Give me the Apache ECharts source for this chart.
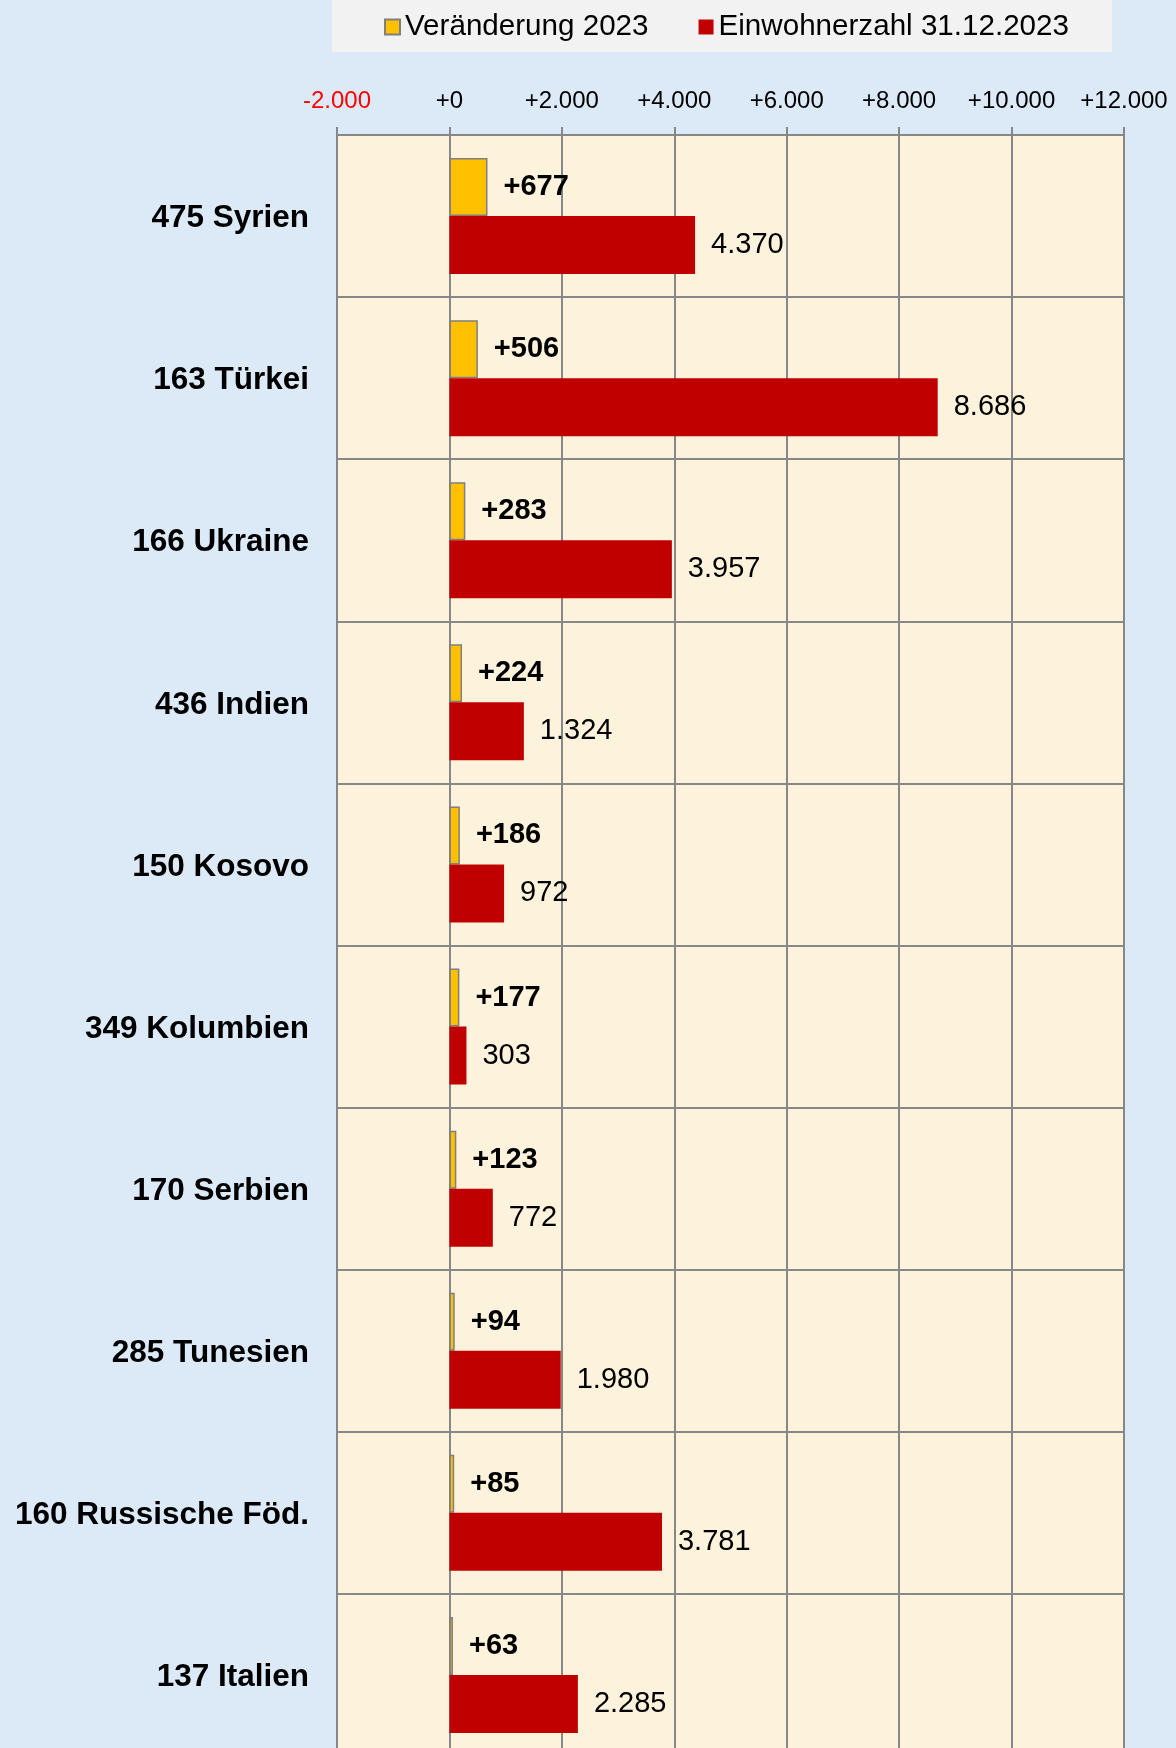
<!DOCTYPE html>
<html lang="de">
<head>
    <meta charset="UTF-8">
    <title>Einwohner nach Staatsangehörigkeit</title>
    <script src="https://cdn.jsdelivr.net/npm/echarts@6/dist/echarts.min.js"></script>
</head>
<style>
html,body{margin: 0;padding: 0;background-color: #dce9f7;overflow: hidden}
/* etwas höher als das Fenster: das Diagramm läuft unten aus dem Bild */
#chartBox{width: 1176px;height: 1770px}
</style>
<body>
    <div id="chartBox"></div>
</body>
<script>
// Daten
const laender = ['475 Syrien', '163 Türkei', '166 Ukraine', '436 Indien', '150 Kosovo',
    '349 Kolumbien', '170 Serbien', '285 Tunesien', '160 Russische Föd.', '137 Italien'];
const veraenderung = [677, 506, 283, 224, 186, 177, 123, 94, 85, 63];
const einwohner = [4370, 8686, 3957, 1324, 972, 303, 772, 1980, 3781, 2285];
const achseMin = -2000, achseMax = 12000, achseSchritt = 2000;

const schrift = "'Liberation Sans', Arial, sans-serif";

// Tausenderpunkt
function tausend(v){
    return String(Math.abs(v)).replace(/\B(?=(\d{3})+(?!\d))/g, '.');
}

function chartOptions(){
    return {
        backgroundColor: '#dce9f7',
        textStyle: {fontFamily: schrift},
        legend: {
            top: 0,
            left: 332,
            padding: [12, 43, 10, 52],
            backgroundColor: '#f2f2f2',
            icon: 'rect',
            itemWidth: 15,
            itemHeight: 15,
            itemGap: 50,
            textStyle: {fontSize: 29.6, color: '#000', fontFamily: schrift},
            data: ['Veränderung 2023', 'Einwohnerzahl 31.12.2023']
        },
        grid: {
            left: 337,
            right: 52,
            top: 135,
            height: 1621,
            show: true,
            backgroundColor: '#fdf2db',
            borderColor: '#878787',
            borderWidth: 2
        },
        xAxis: {
            type: 'value',
            position: 'top',
            min: achseMin,
            max: achseMax,
            interval: achseSchritt,
            axisLine: {show: true, lineStyle: {color: '#878787', width: 2}},
            axisTick: {show: true, length: 8, lineStyle: {color: '#878787', width: 2}},
            splitLine: {show: true, lineStyle: {color: '#878787', width: 2}},
            axisLabel: {
                margin: 22,
                fontSize: 24,
                color: '#000',
                formatter: function(v){
                    if (v < 0) return '{neg|-' + tausend(v) + '}';
                    return '+' + tausend(v);
                },
                rich: {neg: {color: '#ff0000', fontSize: 24, fontFamily: schrift}}
            }
        },
        yAxis: {
            type: 'category',
            inverse: true,
            data: laender,
            axisLine: {show: false},
            axisTick: {show: false},
            splitLine: {show: true, interval: 0, lineStyle: {color: '#878787', width: 2}},
            axisLabel: {
                margin: 28,
                formatter: v => '{land|' + v + '}',
                rich: {
                    land: {
                        fontSize: 31.5,
                        fontWeight: 'bold',
                        color: '#000',
                        fontFamily: schrift,
                        padding: [5, 0, 0, 0]
                    }
                }
            }
        },
        series: [
            {
                type: 'bar',
                name: 'Veränderung 2023',
                data: veraenderung,
                barWidth: 58,
                barGap: '0%',
                itemStyle: {color: '#ffc000', borderColor: '#7f7f7f', borderWidth: 1.5},
                label: {
                    show: true,
                    position: 'right',
                    distance: 16,
                    fontSize: 29,
                    fontWeight: 'bold',
                    color: '#000',
                    formatter: p => '+' + tausend(p.value)
                }
            },
            {
                type: 'bar',
                name: 'Einwohnerzahl 31.12.2023',
                data: einwohner,
                barWidth: 58,
                barGap: '0%',
                itemStyle: {color: '#c00000'},
                label: {
                    show: true,
                    position: 'right',
                    distance: 16,
                    fontSize: 29,
                    color: '#000',
                    formatter: p => tausend(p.value)
                }
            }
        ]
    };
}

let chartObj = echarts.init(document.getElementById('chartBox'));
chartObj.setOption(chartOptions());
</script>
</html>
